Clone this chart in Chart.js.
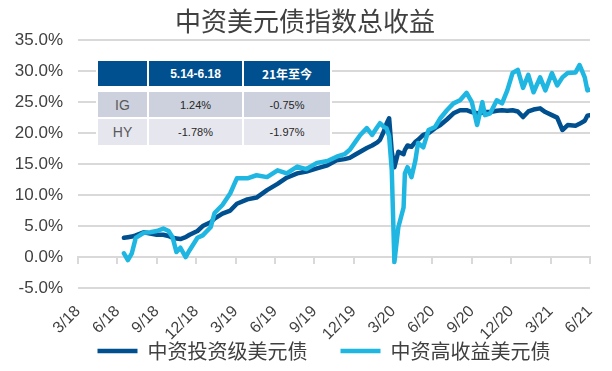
<!DOCTYPE html>
<html>
<head>
<meta charset="utf-8">
<script src="https://cdn.jsdelivr.net/npm/chart.js@4.4.0/dist/chart.umd.min.js"></script>
<style>
  body { margin: 0; background: #fff; }
  #wrap { position: relative; width: 612px; height: 371px; }
  #tbl {
    position: absolute; left: 96px; top: 59px;
    border-collapse: separate; border-spacing: 2px; background: #fff;
    font-family: "Liberation Sans", Arial, sans-serif; text-align: center;
  }
  #tbl td { padding: 0; }
  #tbl .hd td { background: #00508F; color: #fff; font-weight: bold; font-size: 12px; height: 25px; border-bottom: 4px solid #fff; }
  #tbl .hd td.cn { font-family: "Noto Sans CJK SC", sans-serif; }
  #tbl .ig td { background: #CDD1DD; height: 25px; }
  #tbl .hy td { background: #E6E7EE; height: 26px; }
  #tbl .nm { color: #595959; font-size: 14px; }
  #tbl .v { color: #262626; font-size: 11px; }
</style>
</head>
<body>
<div id="wrap">
  <canvas id="chart"></canvas>
  <table id="tbl">
    <tr class="hd"><td style="width:49px"></td><td style="width:93px">5.14-6.18</td><td class="cn" style="width:86px">21年至今</td></tr>
    <tr class="ig"><td class="nm">IG</td><td class="v">1.24%</td><td class="v">-0.75%</td></tr>
    <tr class="hy"><td class="nm">HY</td><td class="v">-1.78%</td><td class="v">-1.97%</td></tr>
  </table>
</div>
<script>
// x tick labels, one every 3 months starting 3/18
const tickLabels = ['3/18', '6/18', '9/18', '12/18', '3/19', '6/19', '9/19', '12/19', '3/20', '6/20', '9/20', '12/20', '3/21', '6/21'];

// months since Mar 2018
const months = [3.5, 3.8, 4.1, 4.4, 5.0, 5.5, 6.0, 6.5, 6.9, 7.2, 7.5, 7.8, 8.2, 8.5, 9.1, 9.5,
  10.1, 10.4, 11.0, 11.6, 12.1, 12.9, 13.6, 14.4, 15.2, 15.9, 16.7, 17.4, 18.2, 19.0, 19.7, 20.3,
  20.7, 21.1, 21.5, 22.0, 22.4, 22.8, 23.0, 23.3, 23.5, 23.7, 23.9, 24.1, 24.4, 24.8, 24.9, 25.1,
  25.4, 25.7, 25.9, 26.3, 26.7, 27.2, 27.6, 28.1, 28.6, 29.1, 29.6, 30.0, 30.4, 30.8, 31.0, 31.4,
  31.9, 32.3, 32.7, 33.1, 33.5, 33.9, 34.3, 34.7, 35.2, 35.6, 36.1, 36.5, 36.9, 37.3, 37.9, 38.2,
  38.6, 38.8, 39.0];

// 中资投资级美元债 (%)
const igValues = [3.1, 3.2, 3.3, 3.5, 4.0, 3.8, 3.6, 3.6, 3.4, 3.1, 3.0, 2.9, 3.2, 3.6, 4.2, 5.0,
  5.6, 6.2, 7.0, 7.5, 8.6, 9.3, 9.6, 10.8, 11.8, 12.8, 13.5, 13.8, 14.3, 14.8, 15.6, 15.8,
  16.0, 16.5, 17.0, 17.6, 18.0, 18.5, 18.9, 20.3, 21.5, 22.4, 17.0, 14.5, 17.0, 16.6, 17.3, 18.0,
  17.8, 18.6, 18.9, 19.7, 20.0, 20.8, 21.3, 22.2, 23.2, 23.7, 23.7, 23.4, 23.2, 23.3, 23.4, 23.4,
  23.6, 23.7, 23.6, 23.7, 23.5, 22.6, 23.5, 23.8, 24.0, 23.4, 22.9, 22.5, 20.5, 21.3, 21.2, 21.5,
  22.0, 22.8, 22.9];

// 中资高收益美元债 (%)
const hyValues = [0.6, -0.5, 0.6, 3.1, 3.9, 4.0, 4.2, 4.6, 4.2, 3.2, 0.8, 1.5, 0.0, 1.1, 3.1, 3.5,
  4.8, 7.1, 8.4, 10.3, 12.7, 12.7, 13.2, 12.9, 14.0, 13.5, 14.6, 14.2, 15.2, 15.5, 16.2, 16.6,
  17.3, 18.5, 19.7, 20.8, 19.7, 21.0, 21.6, 21.0, 20.8, 19.5, 14.0, -0.8, 4.8, 8.0, 13.5, 14.5,
  12.9, 15.6, 18.4, 17.7, 20.5, 21.0, 22.4, 23.7, 24.8, 25.3, 26.5, 25.0, 21.3, 25.0, 22.9, 23.2,
  25.3, 24.8, 26.9, 29.7, 30.2, 27.3, 29.4, 26.6, 29.0, 26.9, 29.7, 27.7, 29.0, 29.7, 29.8, 31.0,
  29.0, 26.9, 27.0];

const toPoints = (vals) => vals.map((v, i) => ({ x: months[i], y: v }));

// small layout fixes: legend a bit to the right, and let tick labels use the space around their boxes
const layoutFix = {
    id: 'layoutFix',
    afterLayout(chart) {
        const lg = chart.legend;
        const dx = 324 - (lg.left + lg.right) / 2;
        lg.left += dx;
        lg.right += dx;
        chart.scales.x.bottom = chart.height;
        chart.scales.y.left = 0;
    }
};

new Chart(document.getElementById('chart').getContext('2d'), {
    type: 'line',
    data: {
        datasets: [{
            label: '中资投资级美元债',
            data: toPoints(igValues),
            borderColor: '#00508F',
            backgroundColor: '#00508F',
            borderWidth: 4.5,
            borderCapStyle: 'round',
            borderJoinStyle: 'round',
            pointRadius: 0,
            tension: 0,
            order: 1
        }, {
            label: '中资高收益美元债',
            data: toPoints(hyValues),
            borderColor: '#1FB6E2',
            backgroundColor: '#1FB6E2',
            borderWidth: 4.5,
            borderCapStyle: 'round',
            borderJoinStyle: 'round',
            pointRadius: 0,
            tension: 0,
            order: 0
        }]
    },
    options: {
        responsive: true,
        maintainAspectRatio: false,
        animation: false,
        layout: { padding: { left: 20, right: 22, top: 0, bottom: 0 } },
        scales: {
            x: {
                type: 'linear',
                min: 0,
                max: 39,
                afterFit: (s) => { s.height = 20; },
                grid: { display: false },
                border: { display: false },
                ticks: {
                    stepSize: 3,
                    autoSkip: false,
                    minRotation: 45,
                    maxRotation: 45,
                    padding: 6,
                    color: '#404040',
                    font: { family: 'Liberation Sans, Arial', size: 16 },
                    callback: (v) => tickLabels[Math.round(v / 3)]
                }
            },
            xZero: {
                type: 'linear',
                position: { y: 0 },
                min: 0,
                max: 39,
                grid: { drawOnChartArea: false, drawTicks: true, tickLength: 6, color: '#D9D9D9', lineWidth: 2 },
                border: { color: '#D9D9D9', width: 2 },
                ticks: { display: false, stepSize: 3 }
            },
            y: {
                min: -5,
                max: 35,
                afterFit: (s) => { s.width = 58; },
                grid: { color: '#D9D9D9', lineWidth: 2, drawTicks: false },
                border: { display: false },
                ticks: {
                    stepSize: 5,
                    padding: 15,
                    color: '#404040',
                    font: { family: 'Liberation Sans, Arial', size: 17 },
                    callback: (v) => v.toFixed(1) + '%'
                }
            }
        },
        plugins: {
            title: {
                display: true,
                text: '中资美元债指数总收益',
                color: '#404040',
                font: { family: 'Noto Sans CJK SC', size: 26, weight: 'normal' },
                padding: { top: 6, bottom: 3 }
            },
            legend: {
                position: 'bottom',
                labels: {
                    usePointStyle: true,
                    pointStyle: 'line',
                    pointStyleWidth: 40,
                    padding: 33,
                    color: '#404040',
                    font: { family: 'Noto Sans CJK SC', size: 20 },
                    sort: (a, b) => a.datasetIndex - b.datasetIndex
                }
            },
            tooltip: { enabled: false }
        }
    },
    plugins: [layoutFix]
});
</script>
</body>
</html>
